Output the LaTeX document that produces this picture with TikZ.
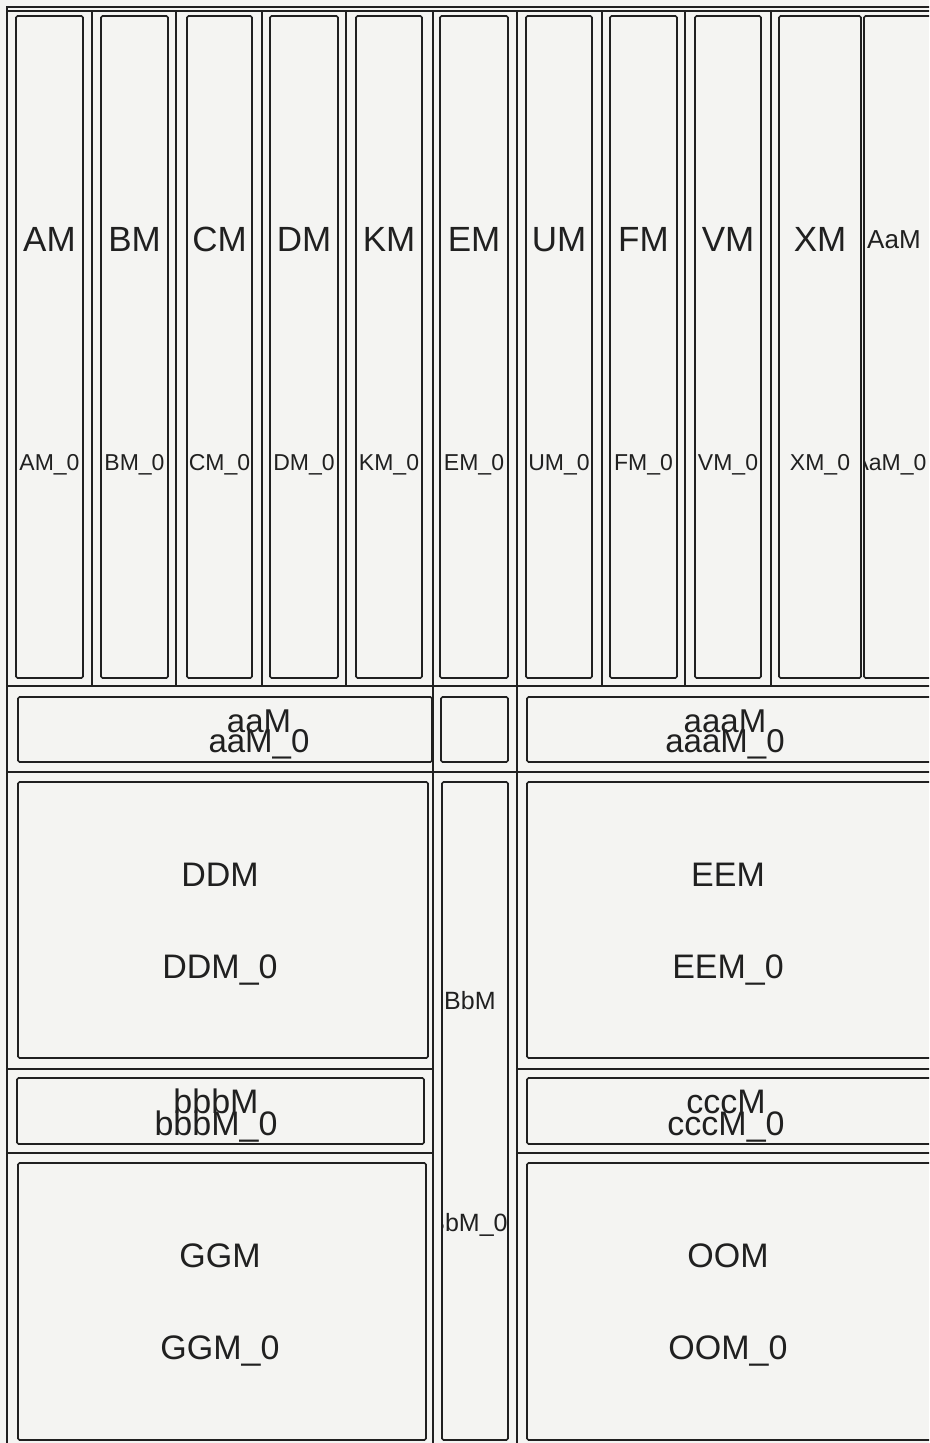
\documentclass[tikz,border=0pt]{standalone}
\usepackage{fontspec}
\setmainfont{Liberation Sans}
\definecolor{bg}{RGB}{244,244,242}
\definecolor{ink}{RGB}{32,32,32}
\begin{document}
\begin{tikzpicture}[x=1pt,y=-1pt,
  box/.style={draw=ink, line width=1.6pt, rounded corners=1.5pt},
  div/.style={draw=ink, line width=2.6pt},
  fine/.style={draw=ink, line width=1.2pt},
  big/.style={font=\fontsize{35}{35}\selectfont, text=ink, anchor=base, inner sep=0pt},
  small/.style={font=\fontsize{23}{23}\selectfont, text=ink, anchor=base, inner sep=0pt},
  mid/.style={font=\fontsize{33}{33}\selectfont, text=ink, anchor=base, inner sep=0pt},
  low/.style={font=\fontsize{34}{34}\selectfont, text=ink, anchor=base, inner sep=0pt}]
\clip (0,0) rectangle (929,1443);
\fill[bg] (0,0) rectangle (929,1443);
% outer frame and dividers
\draw[div] (7,1450) -- (7,7) -- (950,7);
\draw[fine] (7,11) -- (950,11);
\foreach \x in {92,176,262,346,602,685,771} \draw[div] (\x,11) -- (\x,686);
\draw[div] (433,11) -- (433,1450);
\draw[div] (517,11) -- (517,1450);
\draw[div] (7,686) -- (950,686);
\draw[div] (7,772) -- (950,772);
\draw[div] (7,1069) -- (433,1069);
\draw[div] (517,1069) -- (950,1069);
\draw[div] (7,1153) -- (433,1153);
\draw[div] (517,1153) -- (950,1153);
% top columns
\foreach \l/\r/\t in {16/83/AM,101/168/BM,187/252/CM,270/338/DM,356/422/KM,440/508/EM,526/592/UM,610/677/FM,695/761/VM,779/861/XM}{
  \draw[box] (\l,16) rectangle (\r,678);
  \node[big] (\t) at ({(\l+\r)/2},251) {\t};
  \node[small] (\t0) at ({(\l+\r)/2},470) {\t\_0};
}
% AaM column (cut by the right edge)
\draw[box] (864,16) rectangle (960,678);
\node[small, font=\fontsize{26}{26}\selectfont, anchor=base west] (AaM) at (867,248) {AaM};
\begin{scope}
  \clip (865,16) rectangle (960,678);
  \node[small] (AaM0) at (890,470) {AaM\_0};
\end{scope}
% aaM row
\draw[box] (18,697) rectangle (432,762);
\draw[box] (441,697) rectangle (508,762);
\draw[box] (527,697) rectangle (960,762);
\node[mid] (aaM) at (259,732) {aaM};
\node[mid] (aaM0) at (259,752) {aaM\_0};
\node[mid] (aaaM) at (725,732) {aaaM};
\node[mid] (aaaM0) at (725,752) {aaaM\_0};
% big lower boxes
\draw[box] (18,782) rectangle (428,1058);
\draw[box] (527,782) rectangle (960,1058);
\node[low] (DDM) at (220,886) {DDM};
\node[low] (DDM0) at (220,978) {DDM\_0};
\node[low] (EEM) at (728,886) {EEM};
\node[low] (EEM0) at (728,978) {EEM\_0};
% bbbM / cccM row
\draw[box] (17,1078) rectangle (424,1144);
\draw[box] (527,1078) rectangle (960,1144);
\node[low] (bbbM) at (216,1113) {bbbM};
\node[low] (bbbM0) at (216,1135) {bbbM\_0};
\node[low] (cccM) at (726,1113) {cccM};
\node[low] (cccM0) at (726,1135) {cccM\_0};
% bottom boxes
\draw[box] (18,1163) rectangle (426,1440);
\draw[box] (527,1163) rectangle (960,1440);
\node[low] (GGM) at (220,1267) {GGM};
\node[low] (GGM0) at (220,1359) {GGM\_0};
\node[low] (OOM) at (728,1267) {OOM};
\node[low] (OOM0) at (728,1359) {OOM\_0};
% BbM column
\draw[box] (442,782) rectangle (508,1440);
\node[font=\fontsize{25}{25}\selectfont, text=ink, anchor=base west, inner sep=0pt] (BbM) at (444,1009) {BbM};
\begin{scope}
  \clip (443,782) rectangle (507,1440);
  \node[font=\fontsize{25}{25}\selectfont, text=ink, anchor=base, inner sep=0pt] (BbM0) at (468,1231) {BbM\_0};
\end{scope}
\end{tikzpicture}
\end{document}
